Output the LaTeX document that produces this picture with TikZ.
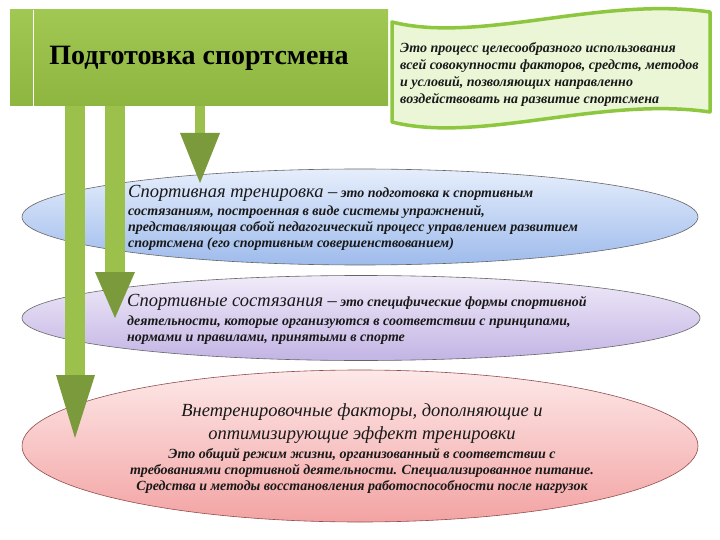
\documentclass[tikz,border=0pt]{standalone}
\usepackage{fontspec}
\setmainfont{Liberation Serif}
\usepackage{xcolor}
\usetikzlibrary{shapes.geometric,calc}

\definecolor{hdrtop}{HTML}{A0C853}
\definecolor{hdrbot}{HTML}{8DB540}
\definecolor{shaftgreen}{HTML}{9BC14C}
\definecolor{headgreen}{HTML}{7A9A3B}
\definecolor{scrollline}{HTML}{8DC63F}
\definecolor{scrollfill}{HTML}{EAF6D6}
\definecolor{traintop}{HTML}{E6EEFC}
\definecolor{trainbot}{HTML}{9EBBEC}
\definecolor{comptop}{HTML}{F0EBF9}
\definecolor{compbot}{HTML}{C3B4E4}
\definecolor{extratop}{HTML}{FDE8E8}
\definecolor{extrabot}{HTML}{F3A3A3}

\newcommand{\bigit}{\fontsize{18.5}{22}\selectfont\mdseries\itshape}

\begin{document}
\begin{tikzpicture}[x=1pt, y=-1pt,
    hdr/.style={shape=rectangle, minimum width=378pt, minimum height=96pt, inner sep=0pt,
      top color=hdrtop, bottom color=hdrbot, font=\fontsize{28}{32}\selectfont\bfseries},
    oval/.style={shape=ellipse, draw=#1, line width=0.6pt, inner sep=0pt},
    shaft/.style={fill=shaftgreen},
    head/.style={fill=headgreen},
    body/.style={anchor=north west, inner sep=0pt, align=left, text=black!90,
      font=\fontsize{14}{16}\selectfont\bfseries\itshape}]
    \useasboundingbox (0,0) rectangle (720,540);

    % the three ovals
    \node[oval=black!60, minimum width=676pt, minimum height=96pt,
      top color=traintop, bottom color=trainbot] (train) at (360,217) {};
    \node[oval=black!60, minimum width=678pt, minimum height=85pt,
      top color=comptop, bottom color=compbot] (comp) at (361,318) {};
    \node[oval=red!40!black!70, minimum width=676pt, minimum height=152pt,
      top color=extratop, bottom color=extrabot] (extra) at (360,446) {};

    % header
    \node[hdr] (hdr) at (199,58) {Подготовка спортсмена};
    \draw[white, line width=1pt] ($(hdr.north west)+(24,0)$) -- ($(hdr.south west)+(24,0)$);

    % scroll with the definition
    \draw[draw=scrollline, fill=scrollfill, line width=3.5pt, line join=round]
      (392,22) .. controls (480,44) and (600,-4) .. (710,12) -- (710,112)
      .. controls (600,96) and (480,144) .. (392,122) -- cycle;
    \node[body, font=\fontsize{14}{17}\selectfont\bfseries\itshape] (defn) at (400,42)
      {Это процесс целесообразного использования\\
       всей совокупности факторов, средств, методов\\
       и условий, позволяющих направленно\\
       воздействовать на развитие спортсмена};

    % arrows
    \coordinate (tipA) at (75,438);
    \coordinate (tipB) at (115,318);
    \coordinate (tipC) at (200,183);
    \path (hdr.south -| tipA) coordinate (rootA);
    \path (hdr.south -| tipB) coordinate (rootB);
    \path (hdr.south -| tipC) coordinate (rootC);
    \fill[shaft] ($(rootA)+(-10,0)$) rectangle ($(tipA)+(10,-63)$);
    \fill[head] ($(tipA)+(-19,-63)$) -- ($(tipA)+(20,-63)$) -- (tipA) -- cycle;
    \fill[shaft] ($(rootB)+(-10,0)$) rectangle ($(tipB)+(10,-46)$);
    \fill[head] ($(tipB)+(-20,-46)$) -- ($(tipB)+(20,-46)$) -- (tipB) -- cycle;
    \fill[shaft] ($(rootC)+(-5,0)$) rectangle ($(tipC)+(5,-50)$);
    \fill[head] ($(tipC)+(-20,-50)$) -- ($(tipC)+(20,-50)$) -- (tipC) -- cycle;

    % texts of the ovals
    \node[body] (traintext) at (128,185)
      {{\bigit Спортивная тренировка –} это подготовка к спортивным\\[2pt]
       состязаниям, построенная в виде системы упражнений,\\
       представляющая собой педагогический процесс управлением развитием\\
       спортсмена (его спортивным совершенствованием)};
    \node[body] (comptext) at (127,294)
      {{\bigit Спортивные состязания –} это специфические формы спортивной\\[3pt]
       деятельности, которые организуются в соответствии с принципами,\\
       нормами и правилами, принятыми в спорте};
    \node[body, anchor=north, align=center] (extratext) at (362,403)
      {{\bigit Внетренировочные факторы, дополняющие и}\\[6pt]
       {\bigit оптимизирующие эффект тренировки}\\[3pt]
       Это общий режим жизни, организованный в соответствии с\\
       требованиями спортивной деятельности. Специализированное питание.\\
       Средства и методы восстановления работоспособности после нагрузок};
\end{tikzpicture}
\end{document}
